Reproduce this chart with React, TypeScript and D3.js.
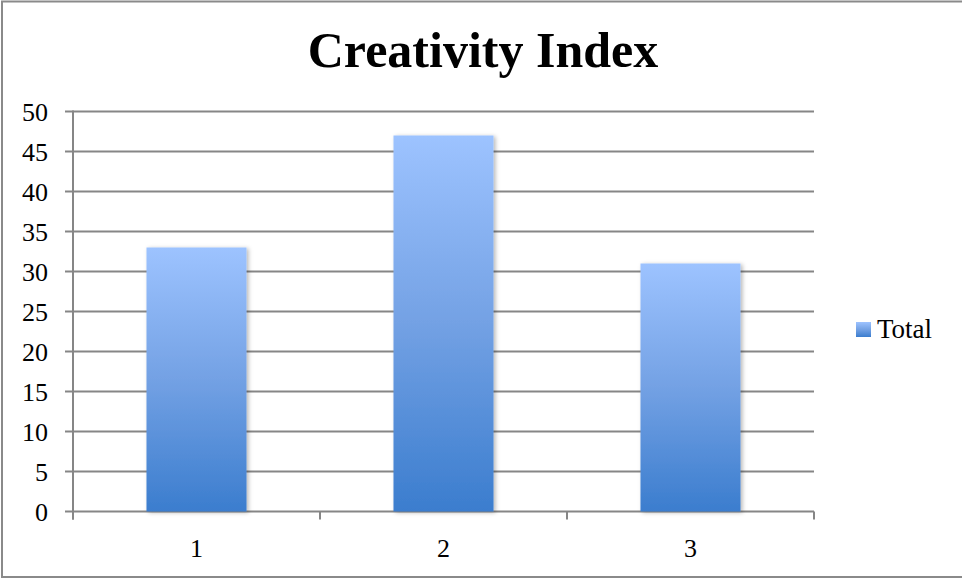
import React from "react";
import * as d3 from "d3";

const categories = ["1", "2", "3"];
const totals = [33, 47, 31];
const yTicks = [0, 5, 10, 15, 20, 25, 30, 35, 40, 45, 50];
const title = "Creativity Index";
const seriesName = "Total";

const W = 962;
const H = 578;
const left = 73;
const right = 814;
const top = 111.5;
const bottom = 511.5;

export default function App() {
  const x = d3.scaleBand<string>().domain(categories).range([left, right]).paddingInner(0.595).paddingOuter(0.2975);
  const y = d3.scaleLinear().domain([0, 50]).range([bottom, top]);
  const band = (right - left) / categories.length;
  const font = "'Liberation Serif', 'Times New Roman', serif";
  return (
    <svg width={W} height={H} style={{ position: "absolute", left: 0, top: 0, display: "block" }}>
      <defs>
        <linearGradient id="barGrad" x1="0" y1="0" x2="0" y2="1">
          <stop offset="0" stopColor="#9DC3FF" />
          <stop offset="0.5" stopColor="#73A1E4" />
          <stop offset="1" stopColor="#3B7DCE" />
        </linearGradient>
        <filter id="shadow" x="-10%" y="-10%" width="130%" height="130%">
          <feDropShadow dx="2" dy="1" stdDeviation="2.2" floodColor="#000" floodOpacity="0.28" />
        </filter>
      </defs>
      <rect x={0} y={0} width={W} height={H} fill="#fff" />
      <rect x={2} y={1.5} width={W + 10} height={H - 2.5} fill="none" stroke="#8a8a8a" strokeWidth={2} />
      <text x={483} y={67} textAnchor="middle" fontFamily={font} fontWeight="bold" fontSize={50} fill="#000">
        {title}
      </text>
      {yTicks.map((t) => (
        <g key={t}>
          <line x1={65} x2={right} y1={y(t)} y2={y(t)} stroke="#868686" strokeWidth={2} />
          <text x={48} y={y(t) + 9} textAnchor="end" fontFamily={font} fontSize={26} fill="#000">
            {t}
          </text>
        </g>
      ))}
      <line x1={left} x2={left} y1={top - 1} y2={bottom + 8} stroke="#868686" strokeWidth={2} />
      {d3.range(categories.length + 1).map((i) => (
        <line key={i} x1={left + i * band} x2={left + i * band} y1={bottom} y2={bottom + 8} stroke="#868686" strokeWidth={2} />
      ))}
      {categories.map((c, i) => (
        <g key={c}>
          <rect
            x={x(c)!}
            y={y(totals[i])}
            width={x.bandwidth()}
            height={bottom - y(totals[i])}
            fill="url(#barGrad)"
            filter="url(#shadow)"
          />
          <text x={x(c)! + x.bandwidth() / 2} y={557} textAnchor="middle" fontFamily={font} fontSize={26} fill="#000">
            {c}
          </text>
        </g>
      ))}
      <rect x={856} y={322} width={15} height={15} fill="url(#barGrad)" />
      <text x={877} y={338} fontFamily={font} fontSize={27} fill="#000">
        {seriesName}
      </text>
    </svg>
  );
}
